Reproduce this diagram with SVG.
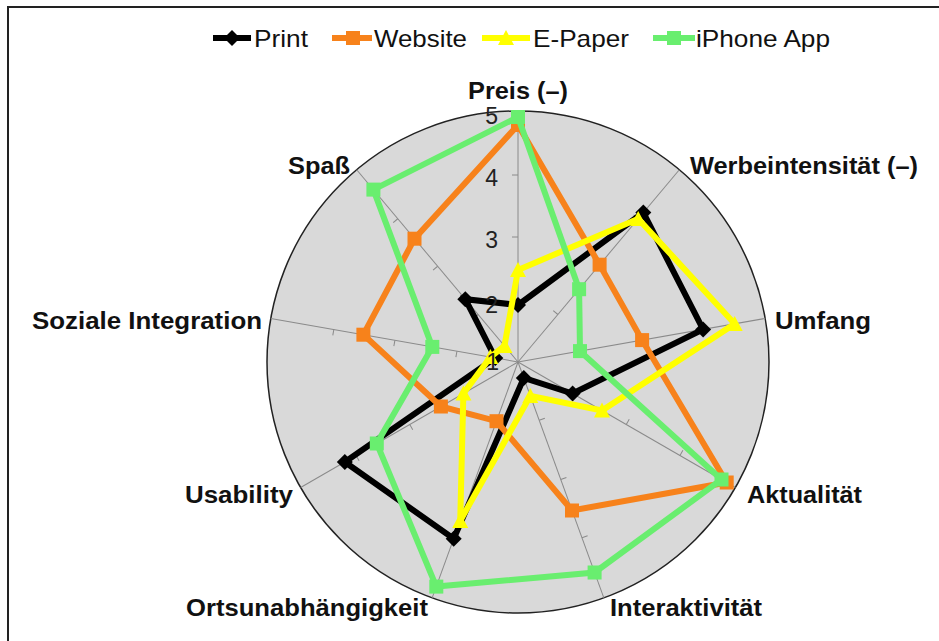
<svg xmlns="http://www.w3.org/2000/svg" width="939" height="641" viewBox="0 0 939 641">
  <style>
    .frame { stroke: #222; stroke-width: 2; fill: none; }
    .plot { fill: #d9d9d9; stroke: #222; stroke-width: 1.5; }
    .spoke { stroke: #8a8a8a; stroke-width: 1; fill: none; }
    .axis-label { font-family: "Liberation Sans", Arial, sans-serif; font-weight: bold; font-size: 24px; fill: #111; }
    .num { font-family: "Liberation Sans", Arial, sans-serif; font-size: 23px; fill: #222; text-anchor: end; }
    .legend-text { font-family: "Liberation Sans", Arial, sans-serif; font-size: 24px; fill: #111; }
    .print { stroke: #000; fill: #000; }
    .website { stroke: #f7821b; fill: #f7821b; }
    .epaper { stroke: #ffff00; fill: #ffff00; }
    .iphone { stroke: #69ee6f; fill: #69ee6f; }
    polygon.series { fill: none; stroke-width: 6; stroke-linejoin: miter; }
    use.mk { stroke: none; }
  </style>
  <defs>
    <!-- one spoke with tick marks at 2, 3, 4; rotated for each axis -->
    <g id="spoke">
      <line x1="518" y1="362" x2="518" y2="111" class="spoke"/>
      <line x1="512" y1="300" x2="518" y2="300" class="spoke"/>
      <line x1="512" y1="237" x2="518" y2="237" class="spoke"/>
      <line x1="512" y1="175" x2="518" y2="175" class="spoke"/>
    </g>
    <path id="m-diamond" d="M0,-8 L8,0 L0,8 L-8,0 Z"/>
    <rect id="m-square" x="-7" y="-7" width="14" height="14"/>
    <path id="m-triangle" d="M0,-9 L8,6 L-8,6 Z"/>
  </defs>

  <rect width="939" height="641" fill="#fff"/>
  <path class="frame" d="M8,641 V7 H939"/>

  <!-- legend -->
  <g id="legend">
    <g id="legend-print">
      <line x1="213" y1="38" x2="251" y2="38" stroke="#000" stroke-width="6"/>
      <use href="#m-diamond" x="232" y="38" fill="#000"/>
      <text class="legend-text" x="254" y="47" textLength="54" lengthAdjust="spacingAndGlyphs">Print</text>
    </g>
    <g id="legend-website">
      <line x1="332" y1="38" x2="372" y2="38" stroke="#f7821b" stroke-width="6"/>
      <use href="#m-square" x="353" y="38" fill="#f7821b"/>
      <text class="legend-text" x="374" y="47" textLength="93" lengthAdjust="spacingAndGlyphs">Website</text>
    </g>
    <g id="legend-epaper">
      <line x1="482" y1="38" x2="530" y2="38" stroke="#ffff00" stroke-width="6"/>
      <use href="#m-triangle" x="506" y="39" fill="#ffff00"/>
      <text class="legend-text" x="533" y="47" textLength="96" lengthAdjust="spacingAndGlyphs">E-Paper</text>
    </g>
    <g id="legend-iphone">
      <line x1="653" y1="38" x2="695" y2="38" stroke="#69ee6f" stroke-width="6"/>
      <use href="#m-square" x="674" y="38" fill="#69ee6f"/>
      <text class="legend-text" x="696" y="47" textLength="134" lengthAdjust="spacingAndGlyphs">iPhone App</text>
    </g>
  </g>

  <!-- plot area: circle and spokes -->
  <g id="grid">
    <circle class="plot" cx="518" cy="362" r="251"/>
    <use href="#spoke"/>
    <use href="#spoke" transform="rotate(40 518 362)"/>
    <use href="#spoke" transform="rotate(80 518 362)"/>
    <use href="#spoke" transform="rotate(120 518 362)"/>
    <use href="#spoke" transform="rotate(160 518 362)"/>
    <use href="#spoke" transform="rotate(200 518 362)"/>
    <use href="#spoke" transform="rotate(240 518 362)"/>
    <use href="#spoke" transform="rotate(280 518 362)"/>
    <use href="#spoke" transform="rotate(320 518 362)"/>
  </g>

  <!-- data series -->
  <g id="series">
    <g id="series-print" class="print">
      <polygon class="series" points="518,305 643.3,212.6 703.1,329.4 572.6,393.5 523.8,378 453.7,538.7 344.8,462 495.3,358 465.3,299.2"/>
      <use class="mk" href="#m-diamond" x="518" y="305"/>
      <use class="mk" href="#m-diamond" x="643.3" y="212.6"/>
      <use class="mk" href="#m-diamond" x="703.1" y="329.4"/>
      <use class="mk" href="#m-diamond" x="572.6" y="393.5"/>
      <use class="mk" href="#m-diamond" x="523.8" y="378"/>
      <use class="mk" href="#m-diamond" x="453.7" y="538.7"/>
      <use class="mk" href="#m-diamond" x="344.8" y="462"/>
      <use class="mk" href="#m-diamond" x="495.3" y="358"/>
      <use class="mk" href="#m-diamond" x="465.3" y="299.2"/>
    </g>
    <g id="series-website" class="website">
      <polygon class="series" points="518,125 599.6,264.7 642.1,340.1 726.7,482.5 572,510.5 496.5,421.2 440.9,406.5 363.4,334.7 414.5,238.7"/>
      <use class="mk" href="#m-square" x="518" y="125"/>
      <use class="mk" href="#m-square" x="599.6" y="264.7"/>
      <use class="mk" href="#m-square" x="642.1" y="340.1"/>
      <use class="mk" href="#m-square" x="726.7" y="482.5"/>
      <use class="mk" href="#m-square" x="572" y="510.5"/>
      <use class="mk" href="#m-square" x="496.5" y="421.2"/>
      <use class="mk" href="#m-square" x="440.9" y="406.5"/>
      <use class="mk" href="#m-square" x="363.4" y="334.7"/>
      <use class="mk" href="#m-square" x="414.5" y="238.7"/>
    </g>
    <g id="series-epaper" class="epaper">
      <polygon class="series" points="518,270 638.2,218.8 734.7,323.8 602,410.5 530.3,395.8 460.2,520.8 463.4,393.5 490.4,357.1 504.5,345.9"/>
      <use class="mk" href="#m-triangle" x="518" y="271"/>
      <use class="mk" href="#m-triangle" x="638.2" y="220"/>
      <use class="mk" href="#m-triangle" x="734.7" y="325"/>
      <use class="mk" href="#m-triangle" x="602" y="411.5"/>
      <use class="mk" href="#m-triangle" x="530.3" y="397"/>
      <use class="mk" href="#m-triangle" x="460.2" y="522"/>
      <use class="mk" href="#m-triangle" x="463.4" y="394.5"/>
      <use class="mk" href="#m-triangle" x="490.4" y="358"/>
      <use class="mk" href="#m-triangle" x="504.5" y="347"/>
    </g>
    <g id="series-iphone" class="iphone">
      <polygon class="series" points="518,117 579.1,289.2 580,351.1 721.5,479.5 594.6,572.5 436.3,586.6 376.8,443.5 432.3,346.9 373.4,189.6"/>
      <use class="mk" href="#m-square" x="518" y="117"/>
      <use class="mk" href="#m-square" x="579.1" y="289.2"/>
      <use class="mk" href="#m-square" x="580" y="351.1"/>
      <use class="mk" href="#m-square" x="721.5" y="479.5"/>
      <use class="mk" href="#m-square" x="594.6" y="572.5"/>
      <use class="mk" href="#m-square" x="436.3" y="586.6"/>
      <use class="mk" href="#m-square" x="376.8" y="443.5"/>
      <use class="mk" href="#m-square" x="432.3" y="346.9"/>
      <use class="mk" href="#m-square" x="373.4" y="189.6"/>
    </g>
  </g>

  <!-- value scale along the top axis -->
  <g id="scale">
    <text class="num" x="498" y="124">5</text>
    <text class="num" x="498" y="186">4</text>
    <text class="num" x="498" y="248">3</text>
    <text class="num" x="498" y="313">2</text>
    <text class="num" x="499" y="370">1</text>
  </g>

  <!-- axis categories -->
  <g id="labels">
    <text id="lbl-preis" class="axis-label" x="518" y="99" text-anchor="middle" textLength="100" lengthAdjust="spacingAndGlyphs">Preis (–)</text>
    <text id="lbl-werbe" class="axis-label" x="690" y="174" textLength="228" lengthAdjust="spacingAndGlyphs">Werbeintensität (–)</text>
    <text id="lbl-umfang" class="axis-label" x="775" y="329" textLength="96" lengthAdjust="spacingAndGlyphs">Umfang</text>
    <text id="lbl-aktualitaet" class="axis-label" x="747" y="503" textLength="115" lengthAdjust="spacingAndGlyphs">Aktualität</text>
    <text id="lbl-interaktivitaet" class="axis-label" x="610" y="616" textLength="152" lengthAdjust="spacingAndGlyphs">Interaktivität</text>
    <text id="lbl-orts" class="axis-label" x="186" y="616" textLength="242" lengthAdjust="spacingAndGlyphs">Ortsunabhängigkeit</text>
    <text id="lbl-usability" class="axis-label" x="185" y="503" textLength="108" lengthAdjust="spacingAndGlyphs">Usability</text>
    <text id="lbl-sozial" class="axis-label" x="32" y="329" textLength="230" lengthAdjust="spacingAndGlyphs">Soziale Integration</text>
    <text id="lbl-spass" class="axis-label" x="288" y="174" textLength="62" lengthAdjust="spacingAndGlyphs">Spaß</text>
  </g>
</svg>
